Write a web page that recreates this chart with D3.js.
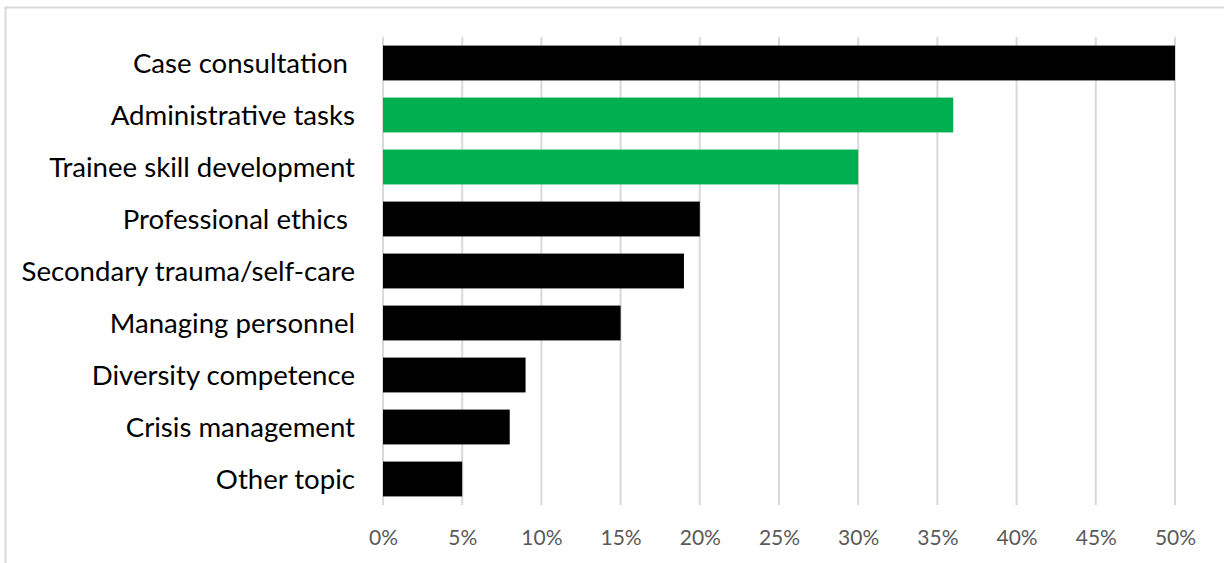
<!DOCTYPE html>
<html>
<head>
<meta charset="utf-8">
<script src="https://cdn.jsdelivr.net/npm/d3@7"></script>
<style>
  html, body { margin: 0; padding: 0; background: #fff; }
  svg { display: block; }
</style>
</head>
<body>
<div id="main"></div>
<script>
// topics, top to bottom
var topics = ['Case consultation ', 'Administrative tasks', 'Trainee skill development',
    'Professional ethics ', 'Secondary trauma/self-care', 'Managing personnel',
    'Diversity competence', 'Crisis management', 'Other topic'];
var shares = [50, 36, 30, 20, 19, 15, 9, 8, 5];
var highlighted = ['Administrative tasks', 'Trainee skill development'];
var tickValues = [0, 5, 10, 15, 20, 25, 30, 35, 40, 45, 50];

var width = 1224, height = 563;
var margins = { top: 37, bottom: 58, left: 383, right: 49 };

var svg = d3.select('#main').append('svg')
    .attr('width', width).attr('height', height);

// chart frame, cut by the window on the right and bottom
svg.append('rect')
    .attr('x', 5.5).attr('y', 7.5)
    .attr('width', width + 20).attr('height', height + 20)
    .style('fill', 'none').style('stroke', '#d9d9d9').style('stroke-width', 2);

var x = d3.scaleLinear()
    .domain([0, 50])
    .range([margins.left, width - margins.right]);
var y = d3.scaleBand()
    .domain(topics)
    .range([margins.top, height - margins.bottom])
    .paddingInner(0.33).paddingOuter(0.165);

// gridlines
svg.append('g').selectAll('line').data(tickValues)
    .enter().append('line')
    .attr('x1', function(d) { return x(d); }).attr('x2', function(d) { return x(d); })
    .attr('y1', margins.top).attr('y2', height - margins.bottom)
    .style('stroke', '#d9d9d9').style('stroke-width', 2);

// bars
svg.append('g').selectAll('rect').data(topics)
    .enter().append('rect')
    .attr('x', x(0))
    .attr('y', function(d) { return y(d); })
    .attr('width', function(d, i) { return x(shares[i]) - x(0); })
    .attr('height', y.bandwidth())
    .style('fill', function(d) { return highlighted.indexOf(d) >= 0 ? '#00b050' : '#000000'; });

// x tick labels
var xAxis = d3.axisBottom(x).tickValues(tickValues)
    .tickFormat(function(d) { return d + '%'; }).tickSize(0).tickPadding(0);
var gx = svg.append('g')
    .attr('transform', 'translate(0,' + (height - margins.bottom) + ')')
    .call(xAxis);
gx.select('.domain').remove();
gx.selectAll('text')
    .attr('dy', '0')
    .attr('y', 40)
    .style('font-family', 'Lato, "Open Sans", sans-serif')
    .style('font-size', '21px')
    .style('fill', '#595959');

// category labels
var yAxis = d3.axisLeft(y).tickSize(0).tickPadding(0);
var gy = svg.append('g')
    .attr('transform', 'translate(' + (margins.left - 28) + ',0)')
    .call(yAxis);
gy.select('.domain').remove();
gy.selectAll('text')
    .attr('dy', '0.35em')
    .style('white-space', 'pre')
    .style('font-family', 'Lato, "Open Sans", sans-serif')
    .style('font-size', '24px')
    .style('fill', '#000');

// fit label size to the widest label (~306px)
var probe = gy.selectAll('text').filter(function(d) { return d === 'Trainee skill development'; });
var w = probe.node().getComputedTextLength();
var fs = 24 * 306 / w;
gy.selectAll('text').style('font-size', fs + 'px');
</script>
</body>
</html>
